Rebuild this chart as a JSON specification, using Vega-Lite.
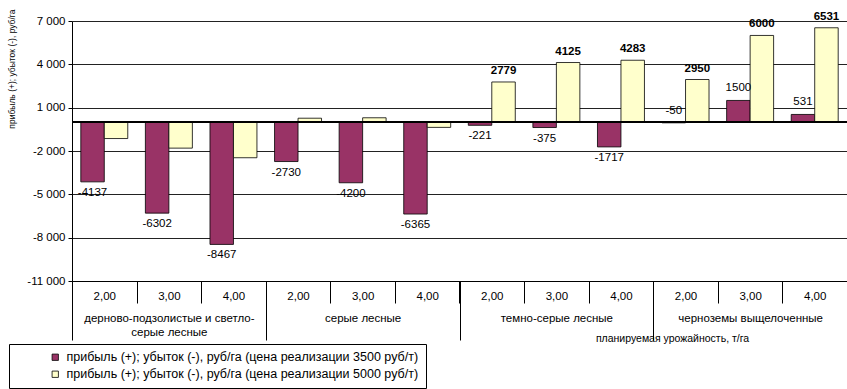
{
  "$schema": "https://vega.github.io/schema/vega-lite/v6.json",
  "width": 775,
  "height": 260,
  "autosize": {"type": "none"},
  "padding": {"left": 72, "top": 21, "right": 0, "bottom": 108},
  "background": "white",
  "config": {
    "font": "Liberation Sans",
    "view": {"stroke": null},
    "axis": {"labelColor": "black", "titleColor": "black", "domainColor": "black", "tickColor": "black", "labelFont": "Liberation Sans", "titleFont": "Liberation Sans"},
    "legend": {"labelFont": "Liberation Sans", "labelColor": "black"}
  },
  "data": {
    "values": [
      {"group": "дерново-подзолистые и светло-серые лесные", "yield": "2,00", "series": "прибыль (+); убыток (-), руб/га (цена реализации 3500 руб/т)", "value": -4137},
      {"group": "дерново-подзолистые и светло-серые лесные", "yield": "2,00", "series": "прибыль (+); убыток (-), руб/га (цена реализации 5000 руб/т)", "value": -1137},
      {"group": "дерново-подзолистые и светло-серые лесные", "yield": "3,00", "series": "прибыль (+); убыток (-), руб/га (цена реализации 3500 руб/т)", "value": -6302},
      {"group": "дерново-подзолистые и светло-серые лесные", "yield": "3,00", "series": "прибыль (+); убыток (-), руб/га (цена реализации 5000 руб/т)", "value": -1802},
      {"group": "дерново-подзолистые и светло-серые лесные", "yield": "4,00", "series": "прибыль (+); убыток (-), руб/га (цена реализации 3500 руб/т)", "value": -8467},
      {"group": "дерново-подзолистые и светло-серые лесные", "yield": "4,00", "series": "прибыль (+); убыток (-), руб/га (цена реализации 5000 руб/т)", "value": -2467},
      {"group": "серые лесные", "yield": "2,00", "series": "прибыль (+); убыток (-), руб/га (цена реализации 3500 руб/т)", "value": -2730},
      {"group": "серые лесные", "yield": "2,00", "series": "прибыль (+); убыток (-), руб/га (цена реализации 5000 руб/т)", "value": 270},
      {"group": "серые лесные", "yield": "3,00", "series": "прибыль (+); убыток (-), руб/га (цена реализации 3500 руб/т)", "value": -4200},
      {"group": "серые лесные", "yield": "3,00", "series": "прибыль (+); убыток (-), руб/га (цена реализации 5000 руб/т)", "value": 300},
      {"group": "серые лесные", "yield": "4,00", "series": "прибыль (+); убыток (-), руб/га (цена реализации 3500 руб/т)", "value": -6365},
      {"group": "серые лесные", "yield": "4,00", "series": "прибыль (+); убыток (-), руб/га (цена реализации 5000 руб/т)", "value": -365},
      {"group": "темно-серые лесные", "yield": "2,00", "series": "прибыль (+); убыток (-), руб/га (цена реализации 3500 руб/т)", "value": -221},
      {"group": "темно-серые лесные", "yield": "2,00", "series": "прибыль (+); убыток (-), руб/га (цена реализации 5000 руб/т)", "value": 2779},
      {"group": "темно-серые лесные", "yield": "3,00", "series": "прибыль (+); убыток (-), руб/га (цена реализации 3500 руб/т)", "value": -375},
      {"group": "темно-серые лесные", "yield": "3,00", "series": "прибыль (+); убыток (-), руб/га (цена реализации 5000 руб/т)", "value": 4125},
      {"group": "темно-серые лесные", "yield": "4,00", "series": "прибыль (+); убыток (-), руб/га (цена реализации 3500 руб/т)", "value": -1717},
      {"group": "темно-серые лесные", "yield": "4,00", "series": "прибыль (+); убыток (-), руб/га (цена реализации 5000 руб/т)", "value": 4283},
      {"group": "черноземы выщелоченные", "yield": "2,00", "series": "прибыль (+); убыток (-), руб/га (цена реализации 3500 руб/т)", "value": -50},
      {"group": "черноземы выщелоченные", "yield": "2,00", "series": "прибыль (+); убыток (-), руб/га (цена реализации 5000 руб/т)", "value": 2950},
      {"group": "черноземы выщелоченные", "yield": "3,00", "series": "прибыль (+); убыток (-), руб/га (цена реализации 3500 руб/т)", "value": 1500},
      {"group": "черноземы выщелоченные", "yield": "3,00", "series": "прибыль (+); убыток (-), руб/га (цена реализации 5000 руб/т)", "value": 6000},
      {"group": "черноземы выщелоченные", "yield": "4,00", "series": "прибыль (+); убыток (-), руб/га (цена реализации 3500 руб/т)", "value": 531},
      {"group": "черноземы выщелоченные", "yield": "4,00", "series": "прибыль (+); убыток (-), руб/га (цена реализации 5000 руб/т)", "value": 6531}
    ]
  },
  "transform": [
    {"calculate": "datum.group + '|' + datum.yield", "as": "col"},
    {"calculate": "'' + datum.value", "as": "label"}
  ],
  "resolve": {"scale": {"x": "independent"}, "axis": {"x": "independent"}},
  "layer": [
    {
      "encoding": {
        "x": {
          "field": "col", "type": "nominal", "sort": null,
          "scale": {"paddingInner": 0, "paddingOuter": 0},
          "axis": {"orient": "bottom", "title": null, "labelExpr": "split(datum.label, '|')[1]", "tickBand": "extent", "tickSize": 22, "labelPadding": -12.5, "labelAngle": 0, "labelFontSize": 11.5, "labelOverlap": false, "labelFlush": false, "grid": false, "domainWidth": 1}
        },
        "xOffset": {"field": "series", "type": "nominal", "scale": {"paddingInner": 0, "paddingOuter": 0.375}},
        "y": {
          "field": "value", "type": "quantitative",
          "scale": {"domain": [-11000, 7000], "nice": false, "zero": false},
          "axis": {
            "values": [7000, 4000, 1000, -2000, -5000, -8000, -11000],
            "labelExpr": "replace(replace(format(datum.value, ','), ',', ' '), '−', '-')",
            "labelFontSize": 11.5, "labelPadding": 3, "tickSize": 4,
            "grid": true, "gridColor": "#222", "gridWidth": 1, "gridOpacity": 1,
            "title": "прибыль (+); убыток (-), руб/га", "titleFontSize": 8.5, "titleFontWeight": "normal",
            "titleAngle": -90, "titleAlign": "right", "titleBaseline": "middle", "titleX": -61, "titleY": -12
          }
        }
      },
      "layer": [
        {
          "mark": {"type": "bar", "stroke": "black", "strokeWidth": 0.8},
          "encoding": {
            "color": {
              "field": "series", "type": "nominal",
              "scale": {"domain": ["прибыль (+); убыток (-), руб/га (цена реализации 3500 руб/т)", "прибыль (+); убыток (-), руб/га (цена реализации 5000 руб/т)"], "range": ["#993366", "#FFFFCC"]},
              "legend": {"orient": "none", "legendX": -63, "legendY": 323, "title": null, "direction": "vertical", "strokeColor": "black", "padding": 7, "symbolOffset": 33, "symbolType": "square", "symbolSize": 40, "symbolStrokeColor": "black", "symbolStrokeWidth": 0.8, "labelFontSize": 12.5, "rowPadding": 4, "labelLimit": 800, "labelOffset": 5}
            }
          }
        },
        {
          "transform": [{"filter": "test(/3500/, datum.series) && datum.value < -100"}],
          "mark": {"type": "text", "dy": 11, "fontSize": 11.5, "color": "black", "baseline": "middle"},
          "encoding": {"text": {"field": "label", "type": "nominal"}}
        },
        {
          "transform": [{"filter": "test(/3500/, datum.series) && datum.value >= -100"}],
          "mark": {"type": "text", "dy": -12, "fontSize": 11.5, "color": "black", "baseline": "middle"},
          "encoding": {"text": {"field": "label", "type": "nominal"}}
        },
        {
          "transform": [{"filter": "test(/5000/, datum.series) && datum.value > 2000"}],
          "mark": {"type": "text", "dy": -11, "fontSize": 11.5, "fontWeight": "bold", "color": "black", "baseline": "middle"},
          "encoding": {"text": {"field": "label", "type": "nominal"}}
        }
      ]
    },
    {
      "mark": {"type": "rule", "color": "black", "strokeWidth": 1},
      "encoding": {"y": {"datum": 0, "type": "quantitative"}}
    },
    {
      "mark": {"type": "point", "opacity": 0},
      "encoding": {
        "x": {
          "field": "group", "type": "nominal", "sort": null,
          "scale": {"paddingInner": 0, "paddingOuter": 0},
          "axis": {
            "orient": "bottom", "domain": false, "tickBand": "extent", "tickSize": 59, "labelPadding": -27.5, "labelAngle": 0,
            "labelFontSize": 11.5, "labelLineHeight": 14, "labelOverlap": false, "labelFlush": false, "labelLimit": 400, "labelBaseline": "top",
            "labelExpr": "datum.label == 'дерново-подзолистые и светло-серые лесные' ? ['дерново-подзолистые и светло-', 'серые лесные'] : datum.label",
            "grid": false,
            "title": "планируемая урожайность, т/га", "titleFontSize": 10.5, "titleFontWeight": "normal",
            "titleX": 600, "titleY": 57, "titleAlign": "center", "titleBaseline": "middle"
          }
        },
        "y": {"datum": 0, "type": "quantitative"}
      }
    }
  ]
}
